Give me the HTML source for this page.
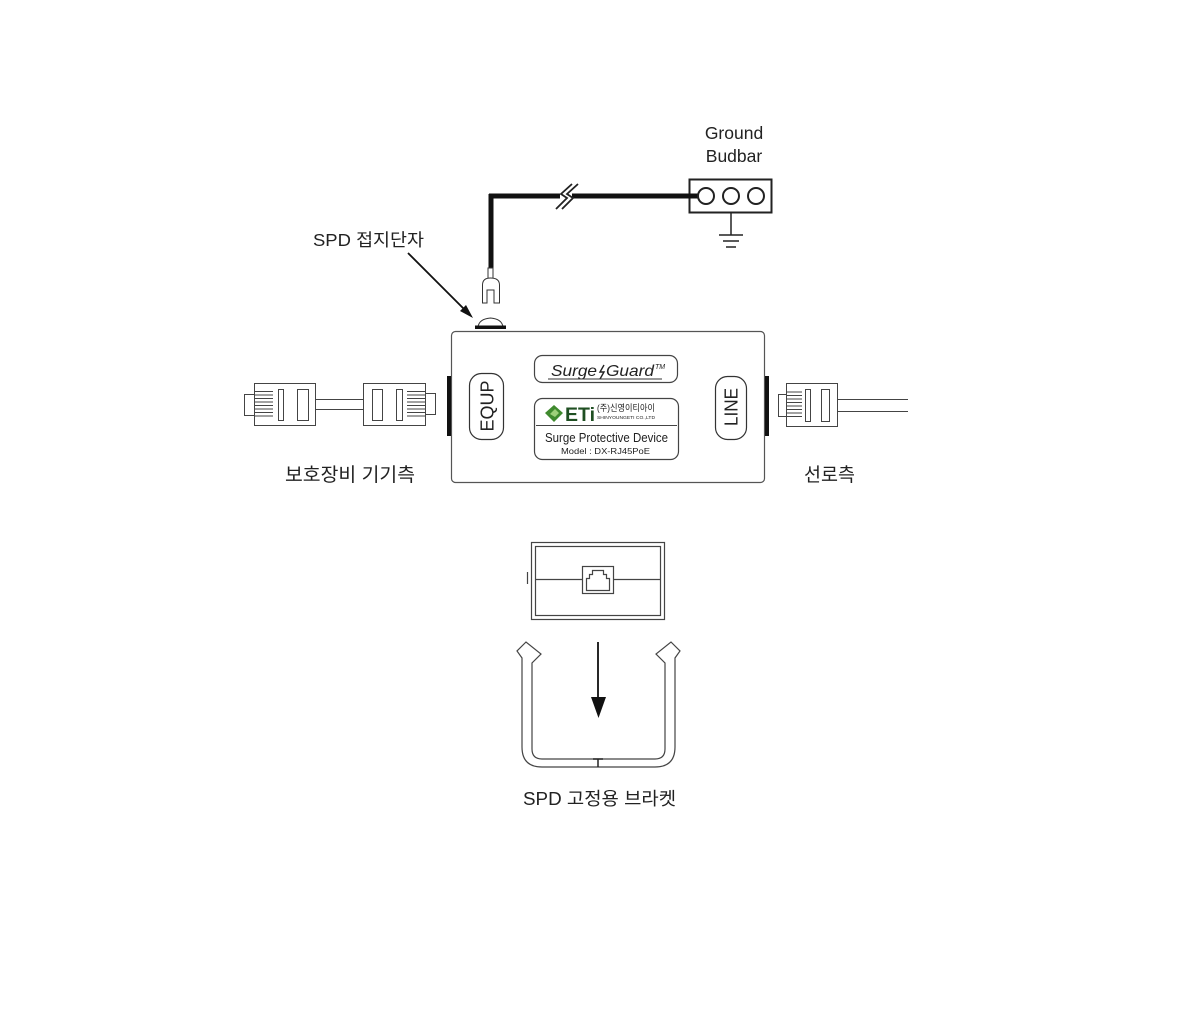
<!DOCTYPE html>
<html><head><meta charset="utf-8"><style>
html,body{margin:0;padding:0;background:#fff;}
svg{display:block;}
text{font-family:"Liberation Sans","Noto Sans CJK KR",sans-serif;fill:#222;}
</style></head><body>
<svg width="1200" height="1018" viewBox="0 0 1200 1018" xmlns="http://www.w3.org/2000/svg">
<rect width="1200" height="1018" fill="#fff"/>

<!-- Ground busbar label -->
<text x="734" y="139" font-size="17.5" text-anchor="middle">Ground</text>
<text x="734" y="162" font-size="17.5" text-anchor="middle">Budbar</text>

<!-- Busbar -->
<rect x="689.5" y="179.5" width="82" height="33" fill="#fff" stroke="#222" stroke-width="2"/>
<line x1="489" y1="196" x2="700" y2="196" stroke="#111" stroke-width="5"/>
<line x1="491" y1="194" x2="491" y2="268" stroke="#111" stroke-width="5"/>
<circle cx="706" cy="196" r="8" fill="#fff" stroke="#222" stroke-width="2"/>
<circle cx="731" cy="196" r="8" fill="#fff" stroke="#222" stroke-width="2"/>
<circle cx="756" cy="196" r="8" fill="#fff" stroke="#222" stroke-width="2"/>
<!-- ground symbol -->
<line x1="731" y1="212" x2="731" y2="235" stroke="#222" stroke-width="1.5"/>
<line x1="719" y1="235" x2="743" y2="235" stroke="#222" stroke-width="1.5"/>
<line x1="723" y1="241" x2="739" y2="241" stroke="#222" stroke-width="1.5"/>
<line x1="726" y1="247" x2="736" y2="247" stroke="#222" stroke-width="1.5"/>
<!-- break symbol -->
<rect x="560" y="192" width="12" height="8" fill="#fff"/>
<polyline points="556,209 567,198 561,194 572,184" fill="none" stroke="#222" stroke-width="1.8"/>
<polyline points="562,209 573,198 567,194 578,184" fill="none" stroke="#222" stroke-width="1.8"/>

<!-- fork terminal -->
<rect x="488" y="268" width="5" height="11" fill="#fff" stroke="#333" stroke-width="1"/>
<path d="M482.5,303 L482.5,285 Q482.5,278 490.5,278 Q499.5,278 499.5,285 L499.5,303 L494,303 L494,290 L487,290 L487,303 Z" fill="#fff" stroke="#333" stroke-width="1"/>

<!-- SPD label and arrow -->
<text x="313" y="246" font-size="17.5" textLength="111" lengthAdjust="spacingAndGlyphs">SPD 접지단자</text>
<line x1="408" y1="253" x2="466" y2="311" stroke="#111" stroke-width="1.8"/>
<polygon points="473,318 460,311 466,305" fill="#111"/>

<!-- dome -->
<path d="M478,327 Q479,319 490.5,318 Q502,319 503,327" fill="#fff" stroke="#333" stroke-width="1"/>
<rect x="475" y="325.5" width="31" height="3.5" fill="#111"/>

<!-- main box -->
<rect x="451.5" y="331.5" width="313" height="151" rx="4" fill="#fff" stroke="#555" stroke-width="1.2"/>
<rect x="447" y="376" width="4" height="60" fill="#111"/>
<rect x="765" y="376" width="4" height="60" fill="#111"/>

<!-- EQUP box -->
<rect x="469.5" y="373.5" width="34" height="66" rx="12" fill="#fff" stroke="#333" stroke-width="1.2"/>
<text transform="translate(493.5,406) rotate(-90)" font-size="18" text-anchor="middle" textLength="51" lengthAdjust="spacingAndGlyphs">EQUP</text>
<!-- LINE box -->
<rect x="715.5" y="376.5" width="31" height="63" rx="12" fill="#fff" stroke="#333" stroke-width="1.2"/>
<text transform="translate(737.5,407) rotate(-90)" font-size="18" text-anchor="middle" textLength="38" lengthAdjust="spacingAndGlyphs">LINE</text>

<!-- SurgeGuard -->
<rect x="534.5" y="355.5" width="143" height="27" rx="8" fill="#fff" stroke="#444" stroke-width="1.2"/>
<text x="551" y="376" font-size="16" font-style="italic" textLength="46" lengthAdjust="spacingAndGlyphs">Surge</text>
<path d="M604,365 L600,372 L604,372 L600,379" fill="none" stroke="#222" stroke-width="1.4"/>
<text x="606" y="376" font-size="16" font-style="italic" textLength="48" lengthAdjust="spacingAndGlyphs">Guard</text>
<text x="655" y="369" font-size="7" font-style="italic">TM</text>
<line x1="548" y1="379" x2="662" y2="379" stroke="#333" stroke-width="1"/>

<!-- label box -->
<rect x="534.5" y="398.5" width="144" height="61" rx="8" fill="#fff" stroke="#444" stroke-width="1.2"/>
<polygon points="545,413 554,405 563,413 554,422" fill="#3f8a2e"/>
<polygon points="550,414 555,409 559,413 555,417" fill="#9ed07a"/>
<text x="565" y="421" font-size="19" font-weight="bold" style="fill:#1f4f22" textLength="30" lengthAdjust="spacingAndGlyphs">ETi</text>
<text x="597" y="411" font-size="9" textLength="58" lengthAdjust="spacingAndGlyphs">(주)신영이티아이</text>
<text x="597" y="419" font-size="4.5" textLength="58" lengthAdjust="spacingAndGlyphs">SHINYOUNGETI CO.,LTD</text>
<line x1="536" y1="425.5" x2="677" y2="425.5" stroke="#444" stroke-width="1"/>
<text x="545" y="442" font-size="13" textLength="123" lengthAdjust="spacingAndGlyphs">Surge Protective Device</text>
<text x="561" y="454" font-size="8.5" textLength="89" lengthAdjust="spacingAndGlyphs">Model : DX-RJ45PoE</text>

<!-- Left cable connectors -->
<g fill="#fff" stroke="#444" stroke-width="1">
<rect x="244.5" y="394.5" width="10" height="21"/>
<rect x="254.5" y="383.5" width="61" height="42"/>
<rect x="278.5" y="389.5" width="5" height="31"/>
<rect x="297.5" y="389.5" width="11" height="31"/>
<rect x="425.5" y="393.5" width="10" height="21"/>
<rect x="363.5" y="383.5" width="62" height="42"/>
<rect x="372.5" y="389.5" width="10" height="31"/>
<rect x="396.5" y="389.5" width="6" height="31"/>
</g>
<g stroke="#444" stroke-width="1">
<line x1="315" y1="399.5" x2="363" y2="399.5"/>
<line x1="315" y1="409.5" x2="363" y2="409.5"/>
<line x1="255" y1="391.5" x2="273" y2="391.5"/>
<line x1="255" y1="395" x2="273" y2="395"/>
<line x1="255" y1="398.5" x2="273" y2="398.5"/>
<line x1="255" y1="402" x2="273" y2="402"/>
<line x1="255" y1="405.5" x2="273" y2="405.5"/>
<line x1="255" y1="409" x2="273" y2="409"/>
<line x1="255" y1="412.5" x2="273" y2="412.5"/>
<line x1="255" y1="416" x2="273" y2="416"/>
<line x1="407" y1="391.5" x2="425" y2="391.5"/>
<line x1="407" y1="395" x2="425" y2="395"/>
<line x1="407" y1="398.5" x2="425" y2="398.5"/>
<line x1="407" y1="402" x2="425" y2="402"/>
<line x1="407" y1="405.5" x2="425" y2="405.5"/>
<line x1="407" y1="409" x2="425" y2="409"/>
<line x1="407" y1="412.5" x2="425" y2="412.5"/>
<line x1="407" y1="416" x2="425" y2="416"/>
</g>

<!-- Right cable connector -->
<g fill="#fff" stroke="#444" stroke-width="1">
<rect x="778.5" y="394.5" width="8" height="22"/>
<rect x="786.5" y="383.5" width="51" height="43"/>
<rect x="805.5" y="389.5" width="5" height="32"/>
<rect x="821.5" y="389.5" width="8" height="32"/>
</g>
<g stroke="#444" stroke-width="1">
<line x1="837" y1="399.5" x2="908" y2="399.5"/>
<line x1="837" y1="411.5" x2="908" y2="411.5"/>
<line x1="787" y1="392" x2="802" y2="392"/>
<line x1="787" y1="395.5" x2="802" y2="395.5"/>
<line x1="787" y1="399" x2="802" y2="399"/>
<line x1="787" y1="402.5" x2="802" y2="402.5"/>
<line x1="787" y1="406" x2="802" y2="406"/>
<line x1="787" y1="409.5" x2="802" y2="409.5"/>
<line x1="787" y1="413" x2="802" y2="413"/>
<line x1="787" y1="416.5" x2="802" y2="416.5"/>
</g>

<!-- side labels -->
<text x="285" y="481" font-size="19" textLength="130" lengthAdjust="spacingAndGlyphs">보호장비 기기측</text>
<text x="804" y="481" font-size="19" textLength="51" lengthAdjust="spacingAndGlyphs">선로측</text>

<!-- bracket top view box -->
<g fill="none" stroke="#444" stroke-width="1.2">
<rect x="531.5" y="542.5" width="133" height="77"/>
<rect x="535.5" y="546.5" width="125" height="69"/>
<line x1="535" y1="579.5" x2="582" y2="579.5"/>
<line x1="613" y1="579.5" x2="660" y2="579.5"/>
<rect x="582.5" y="566.5" width="31" height="27"/>
<polygon points="586.5,590.5 586.5,578.5 589.5,578.5 589.5,574.5 592.5,574.5 592.5,570.5 603.5,570.5 603.5,574.5 606.5,574.5 606.5,578.5 609.5,578.5 609.5,590.5"/>
<line x1="527.5" y1="572" x2="527.5" y2="584"/>
</g>

<!-- arrow -->
<line x1="598" y1="642" x2="598" y2="699" stroke="#111" stroke-width="1.8"/>
<polygon points="591,697 606,697 598.5,718" fill="#111"/>

<!-- U bracket -->
<path d="M532,663 L532,749 Q532,759 542,759 L655,759 Q665,759 665,749 L665,663 L656,654 L671,642 L680,651 L675,658 L675,747 Q675,767 655,767 L542,767 Q522,767 522,747 L522,658 L517,651 L526,642 L541,654 Z" fill="#fff" stroke="#444" stroke-width="1.2"/>
<line x1="593" y1="759" x2="603" y2="759" stroke="#222" stroke-width="1.5"/>
<line x1="598" y1="759" x2="598" y2="767" stroke="#222" stroke-width="1.5"/>

<text x="523" y="805" font-size="18" textLength="153" lengthAdjust="spacingAndGlyphs">SPD 고정용 브라켓</text>
</svg>
</body></html>
